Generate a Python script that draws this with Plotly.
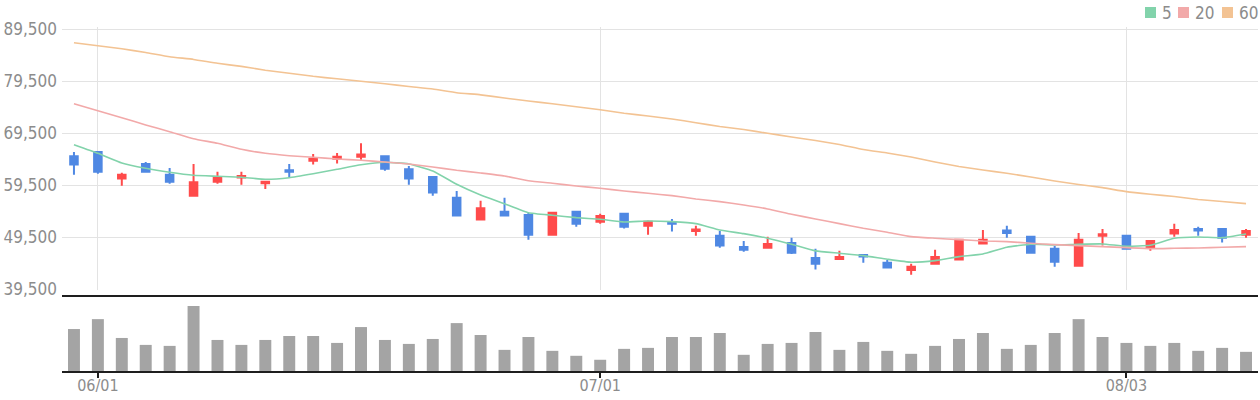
import plotly.graph_objects as go

dates = ["05/31", "06/01", "06/02", "06/03", "06/07", "06/08", "06/09", "06/10",
         "06/13", "06/14", "06/15", "06/16", "06/17", "06/20", "06/21", "06/22",
         "06/23", "06/24", "06/27", "06/28", "06/29", "06/30", "07/01", "07/04",
         "07/05", "07/06", "07/07", "07/08", "07/11", "07/12", "07/13", "07/14",
         "07/15", "07/18", "07/19", "07/20", "07/21", "07/22", "07/25", "07/26",
         "07/27", "07/28", "08/01", "08/02", "08/03", "08/04", "08/05", "08/08",
         "08/09", "08/10"]

open_ = [65100, 65900, 60800, 63600, 61500, 57500, 60200, 61000, 59900, 62400,
         64200, 64600, 65000, 65100, 62600, 61100, 57100, 52900, 54400, 53800,
         50000, 54400, 52500, 54000, 51700, 52400, 50700, 49800, 47600, 47500,
         48400, 45500, 45300, 46100, 44600, 43200, 44400, 45200, 48300, 50800,
         49600, 47300, 44000, 49800, 49800, 47500, 50200, 51100, 51100, 50000]
high = [65900, 65900, 61900, 64000, 62800, 63600, 62100, 62100, 60300, 63600,
        65500, 65700, 67600, 65100, 63200, 61100, 58400, 56500, 57100, 54200,
        54200, 54600, 54000, 54000, 52700, 53000, 51700, 50700, 48800, 49600,
        49400, 47300, 46900, 46300, 45100, 44400, 47100, 49000, 50900, 51700,
        49600, 47800, 50300, 51100, 50000, 48800, 52100, 51500, 51300, 51100]
low = [61500, 61700, 59400, 62000, 59800, 57300, 59800, 59600, 58800, 61100,
       63500, 63700, 64400, 62300, 59600, 57500, 53700, 52900, 53700, 49000,
       49800, 51500, 52100, 51200, 50000, 50600, 49800, 47500, 46700, 47500,
       46300, 43300, 45100, 44600, 43500, 42300, 44400, 45200, 48300, 49400,
       46500, 43800, 44000, 47900, 47300, 46900, 49600, 49800, 48500, 49400]
close = [63500, 62100, 61500, 62100, 60200, 60100, 61100, 61300, 60200, 62100,
         64600, 65000, 65400, 62700, 60800, 58100, 53700, 55100, 53700, 50000,
         54200, 52100, 53600, 51500, 52500, 52100, 51000, 47900, 47100, 48200,
         46500, 44400, 45700, 45800, 43700, 43800, 45700, 49000, 49000, 50300,
         46500, 44800, 49000, 50100, 47300, 48800, 50900, 50800, 49400, 50700]

ma5 = [67300, 65650, 63790, 62770, 62000, 61420, 61230, 61040, 60650, 60960,
       61730, 62580, 63460, 63920, 63600, 62250, 59690, 57630, 55960, 54230,
       53730, 53270, 52960, 52440, 52630, 52500, 52120, 50900, 50190, 49310,
       48150, 46870, 46420, 45960, 45270, 44690, 45000, 45770, 46290, 47580,
       48150, 48020, 48150, 48210, 47770, 47960, 49310, 49560, 49420, 50130]
ma20 = [75190, 73850, 72500, 71100, 69810, 68460, 67580, 66420, 65650, 65190,
        64880, 64560, 64310, 63980, 63600, 63020, 62380, 61860, 61290, 60380,
        59880, 59370, 58920, 58400, 57960, 57500, 56860, 56350, 55710, 54940,
        53920, 53020, 52120, 51230, 50460, 49620, 49310, 49040, 48790, 48650,
        48350, 48080, 47880, 47690, 47500, 47310, 47380, 47440, 47580, 47690]
ma60 = [86920, 86340, 85770, 85040, 84230, 83710, 82960, 82380, 81630, 81060,
        80460, 79980, 79500, 79020, 78500, 78020, 77310, 76900, 76290, 75710,
        75170, 74600, 74040, 73350, 72830, 72250, 71540, 70810, 70230, 69500,
        68790, 68110, 67350, 66380, 65710, 64940, 63980, 63110, 62440, 61810,
        61100, 60330, 59650, 59040, 58270, 57770, 57350, 56770, 56380, 55960]

volume = [1270000, 1570000, 1000000, 790000, 760000, 1970000, 940000, 790000,
          940000, 1060000, 1060000, 850000, 1330000, 940000, 820000, 970000,
          1450000, 1090000, 640000, 1030000, 610000, 460000, 340000, 670000,
          700000, 1030000, 1030000, 1150000, 490000, 820000, 850000, 1180000,
          640000, 880000, 610000, 520000, 760000, 970000, 1150000, 670000,
          790000, 1150000, 1570000, 1030000, 850000, 760000, 850000, 610000,
          700000, 580000]

tick_dates = ["06/01", "07/01", "08/03"]
price_ticks = [39500, 49500, 59500, 69500, 79500, 89500]
ma_names = ["5", "20", "60"]
ma_colors = ["#82d3ab", "#f2a9a9", "#f3c393"]

UP = "#ff4b4b"
DOWN = "#4f88e3"
FONT = "DejaVu Sans Condensed, Noto Sans, DejaVu Sans"
LABEL = "#8c8c8c"

fig = go.Figure()

fig.add_trace(go.Candlestick(
    x=dates, open=open_, high=high, low=low, close=close,
    increasing=dict(line=dict(color=UP, width=2), fillcolor=UP),
    decreasing=dict(line=dict(color=DOWN, width=2), fillcolor=DOWN),
    whiskerwidth=0, showlegend=False, xaxis="x", yaxis="y", hoverinfo="skip",
))

for name, series, col in zip(ma_names, [ma5, ma20, ma60], ma_colors):
    fig.add_trace(go.Scatter(
        x=dates, y=series, mode="lines", name=name,
        line=dict(color=col, width=1.6, shape="spline", smoothing=0.4),
        showlegend=False, xaxis="x", yaxis="y", hoverinfo="skip",
    ))

fig.add_trace(go.Bar(
    x=dates, y=volume, marker=dict(color="#a4a4a4", line=dict(width=0)),
    width=0.5, showlegend=False, xaxis="x2", yaxis="y2", hoverinfo="skip",
))

# legend drawn as squares + text in top-right corner
leg_x_sq = [1145, 1178, 1222]
leg_x_tx = [1160, 1193, 1237]
W, H = 1260, 400
ml, mr, mt, mb = 62, 2, 27, 29
pw, ph = W - ml - mr, H - mt - mb


def px_to_paper_x(px):
    return (px - ml) / pw


def py_to_paper_y(py):
    return (H - mb - py) / ph


shapes = []
annotations = []
for name, col, sx, tx in zip(ma_names, ma_colors, leg_x_sq, leg_x_tx):
    shapes.append(dict(type="rect", xref="paper", yref="paper",
                       x0=px_to_paper_x(sx), x1=px_to_paper_x(sx + 11),
                       y0=py_to_paper_y(18), y1=py_to_paper_y(7),
                       fillcolor=col, line=dict(width=0)))
    annotations.append(dict(text=name, xref="paper", yref="paper",
                            x=px_to_paper_x(tx), y=py_to_paper_y(12.5),
                            xanchor="left", yanchor="middle", showarrow=False,
                            font=dict(family=FONT, size=17, color=LABEL)))

fig.update_layout(
    width=W, height=H,
    margin=dict(l=ml, r=mr, t=mt, b=mb, autoexpand=False),
    paper_bgcolor="white", plot_bgcolor="white",
    boxgap=0.55,
    showlegend=False,
    shapes=shapes, annotations=annotations,
    xaxis=dict(type="category", domain=[0, 1], anchor="y",
               range=[-0.5, len(dates) - 0.5],
               tickmode="array", tickvals=tick_dates, ticktext=tick_dates,
               showticklabels=False, ticks="", showgrid=True,
               gridcolor="#e3e3e3", gridwidth=1,
               showline=False, zeroline=False, automargin=False,
               rangeslider=dict(visible=False), fixedrange=True),
    yaxis=dict(domain=[(H - mb - 290) / ph, 1], anchor="x",
               range=[39350, 89950],
               tickmode="array", tickvals=price_ticks, tickformat=",",
               showgrid=True, gridcolor="#e3e3e3", gridwidth=1,
               zeroline=False, showline=False, ticks="", automargin=False,
               tickfont=dict(family=FONT, size=17, color=LABEL),
               ticklabelstandoff=4),
    xaxis2=dict(type="category", domain=[0, 1], anchor="y2", matches="x",
                tickmode="array", tickvals=tick_dates, ticktext=tick_dates,
                showgrid=False, showline=True, linecolor="#1e1e1e",
                linewidth=2, mirror=True, automargin=False,
                ticks="outside", ticklen=5, tickwidth=2, tickcolor="#1e1e1e",
                tickfont=dict(family=FONT, size=16, color=LABEL),
                ticklabelstandoff=-6,
                zeroline=False),
    yaxis2=dict(domain=[0, (H - mb - 297) / ph], anchor="x2",
                range=[0, 2240000], showgrid=False, showticklabels=False,
                zeroline=False, showline=False, ticks="", automargin=False),
)

fig.write_html(
    "out.html",
    config={"displayModeBar": False, "staticPlot": True},
    post_script="document.body.style.margin='0px';document.body.style.padding='0px';",
)
